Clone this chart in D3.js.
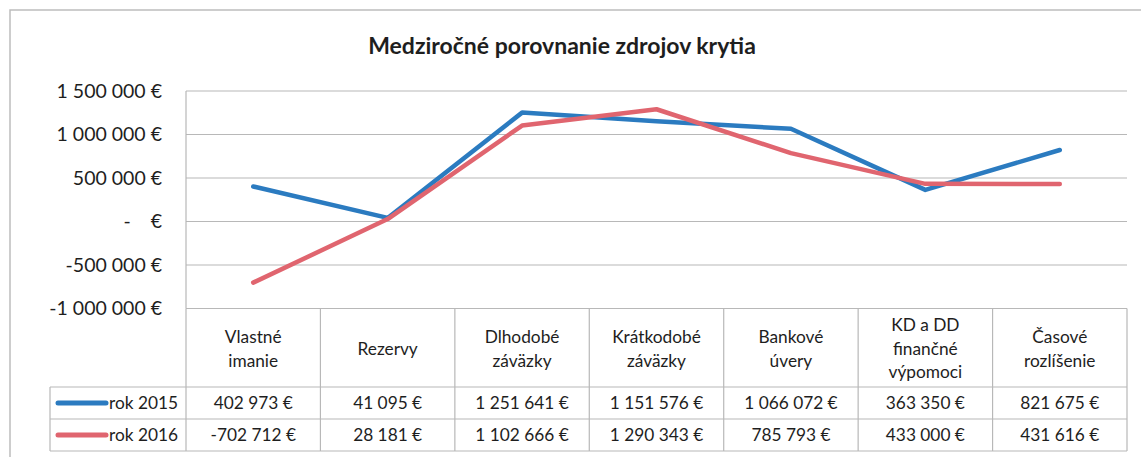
<!DOCTYPE html>
<html>
<head>
<meta charset="utf-8">
<script src="https://cdn.jsdelivr.net/npm/d3@7"></script>
<style>
  body { margin: 0; background: #fff; }
  svg { display: block; font-family: Lato, "Open Sans", sans-serif; }
</style>
</head>
<body>
<svg id="chart"></svg>
<script>
// data
var categories = [
  ["Vlastné", "imanie"],
  ["Rezervy"],
  ["Dlhodobé", "záväzky"],
  ["Krátkodobé", "záväzky"],
  ["Bankové", "úvery"],
  ["KD a DD", "finančné", "výpomoci"],
  ["Časové", "rozlíšenie"]
];
var seriesNames = ["rok 2015", "rok 2016"];
var values2015 = [402973, 41095, 1251641, 1151576, 1066072, 363350, 821675];
var values2016 = [-702712, 28181, 1102666, 1290343, 785793, 433000, 431616];
var yTicks = [-1000000, -500000, 0, 500000, 1000000, 1500000];

var W = 1141, H = 457;
var colors = ["#2b7bc0", "#e0656f"];
var gridColor = "#b8b8b8", textColor = "#1e1e1e";

var plotL = 186, plotR = 1127, plotT = 91, plotB = 308.5;
var headB = 387, row1B = 419, row2B = 451, legendL = 50;
var fs = 17.3;

var svg = d3.select("#chart").attr("width", W).attr("height", H);

// outer frame
svg.append("path")
  .attr("d", "M10," + H + "V10H" + W)
  .attr("fill", "none").attr("stroke", "#bdbdbd").attr("stroke-width", 1.5);

svg.append("text")
  .attr("x", 562).attr("y", 54)
  .attr("text-anchor", "middle")
  .attr("font-size", 23).attr("font-weight", "bold")
  .attr("fill", textColor)
  .text("Medziročné porovnanie zdrojov krytia");

var x = d3.scaleBand().domain(d3.range(categories.length)).range([plotL, plotR]);
var y = d3.scaleLinear().domain([-1000000, 1500000]).range([plotB, plotT]);

var fmt = function(v) {
  if (v == 0) return "-\u00a0\u00a0\u00a0\u00a0€";
  var s = d3.format(",d")(Math.abs(v)).replace(/,/g, " ");
  return (v < 0 ? "-" : "") + s + " €";
};

// gridlines
svg.append("g").selectAll("line").data(yTicks).enter().append("line")
  .attr("x1", plotL).attr("x2", plotR)
  .attr("y1", function(d) { return y(d); })
  .attr("y2", function(d) { return y(d); })
  .attr("stroke", gridColor).attr("stroke-width", 1.2);

svg.append("line")
  .attr("x1", plotL).attr("x2", plotL).attr("y1", plotT).attr("y2", plotB)
  .attr("stroke", gridColor).attr("stroke-width", 1.2);

// y labels
var yAxis = d3.axisLeft(y).tickValues(yTicks).tickFormat(fmt).tickSize(0).tickPadding(24);
var ya = svg.append("g").attr("transform", "translate(" + plotL + ",0)").call(yAxis);
ya.select(".domain").remove();
ya.selectAll("text").attr("font-size", 19.5).attr("fill", textColor)
  .attr("font-family", "Lato, 'Open Sans', sans-serif");

// table grid
var tg = svg.append("g").attr("stroke", gridColor).attr("stroke-width", 1.2).attr("fill", "none");
x.domain().forEach(function(i) {
  tg.append("line").attr("x1", x(i)).attr("x2", x(i)).attr("y1", plotB).attr("y2", row2B);
});
tg.append("line").attr("x1", plotR).attr("x2", plotR).attr("y1", plotB).attr("y2", row2B);
tg.append("line").attr("x1", legendL).attr("x2", legendL).attr("y1", headB).attr("y2", row2B);
[headB, row1B, row2B].forEach(function(yy) {
  tg.append("line").attr("x1", legendL).attr("x2", plotR).attr("y1", yy).attr("y2", yy);
});

// header labels
var lh = 23.5;
var hdr = svg.append("g").selectAll("text").data(categories).enter().append("text")
  .attr("text-anchor", "middle").attr("font-size", fs).attr("fill", textColor)
  .attr("x", function(d, i) { return x(i) + x.bandwidth() / 2; })
  .attr("y", function(d) { return (plotB + headB) / 2 - (d.length - 1) * lh / 2 + 7; });
hdr.each(function(d) {
  var t = d3.select(this);
  d.forEach(function(line, k) {
    t.append("tspan").attr("x", t.attr("x")).attr("dy", k == 0 ? 0 : lh).text(line);
  });
});

// lines + rows
var series = [values2015, values2016];
var line = d3.line()
  .x(function(d, i) { return x(i) + x.bandwidth() / 2; })
  .y(function(d) { return y(d); });
var rowTops = [headB, row1B], rowBots = [row1B, row2B];

series.forEach(function(vals, s) {
  svg.append("path").datum(vals)
    .attr("d", line)
    .attr("fill", "none").attr("stroke", colors[s]).attr("stroke-width", 4.5)
    .attr("stroke-linejoin", "round").attr("stroke-linecap", "round");

  var cy = (rowTops[s] + rowBots[s]) / 2;
  svg.append("line")
    .attr("x1", 58).attr("x2", 106).attr("y1", cy).attr("y2", cy)
    .attr("stroke", colors[s]).attr("stroke-width", 5).attr("stroke-linecap", "round");
  svg.append("text")
    .attr("x", 109).attr("y", cy + 6)
    .attr("font-size", fs).attr("fill", textColor)
    .text(seriesNames[s]);

  svg.append("g").selectAll("text").data(vals).enter().append("text")
    .attr("text-anchor", "middle").attr("font-size", fs).attr("fill", textColor)
    .attr("x", function(d, i) { return x(i) + x.bandwidth() / 2; })
    .attr("y", cy + 6)
    .text(fmt);
});
</script>
</body>
</html>
